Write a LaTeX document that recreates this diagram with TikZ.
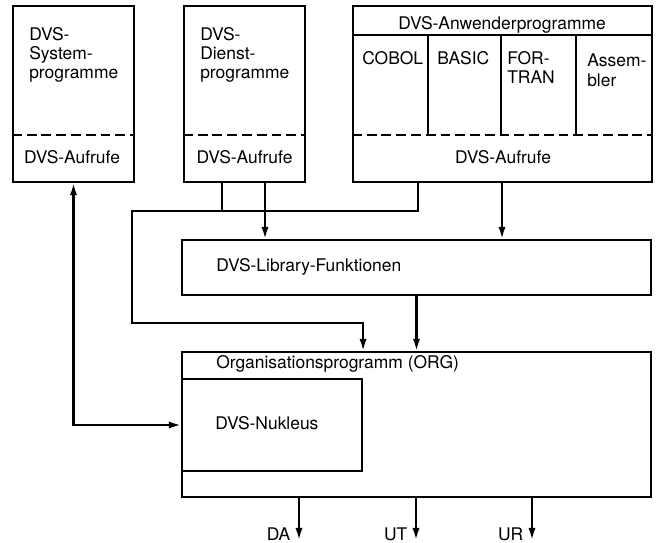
\documentclass[tikz,border=0pt]{standalone}
\usepackage{fontspec}
\setmainfont{TeX Gyre Heros}
\usetikzlibrary{arrows.meta}

\tikzset{
  box/.style={draw,line width=1.5pt,inner sep=0pt},
  txt/.style={inner sep=0pt,font=\fontsize{12.4}{13.6}\selectfont,align=left},
  conn/.style={line width=1.5pt},
  cutline/.style={line width=1.5pt,dash pattern=on 7pt off 3.5pt}
}

\begin{document}
\begin{tikzpicture}[x=0.025cm,y=-0.025cm,>={Latex[length=3mm,width=1.8mm]},line join=miter]
  \useasboundingbox (0,0) rectangle (658,543);
  % upper boxes
  \node[box,minimum width=3.025cm,minimum height=4.4cm] (sys) at (73.5,94) {};
  \node[box,minimum width=3.025cm,minimum height=4.4cm] (dienst) at (244.5,94) {};
  \node[box,minimum width=7.475cm,minimum height=4.4cm] (anw) at (502.5,94) {};
  \coordinate (cut) at (0,135);
  \coordinate (band) at (0,35);
  \draw[cutline] (sys.west |- cut) -- (sys.east |- cut);
  \draw[cutline] (dienst.west |- cut) -- (dienst.east |- cut);
  \draw[cutline] (anw.west |- cut) -- (anw.east |- cut);
  \draw[conn] (anw.west |- band) -- (anw.east |- band);
  \foreach \x in {428,501,576}
    \draw[conn] (\x,35) -- (\x,135);
  % lower boxes
  \node[box,minimum width=11.725cm,minimum height=1.375cm] (lib) at (416.5,267.5) {};
  \node[box,minimum width=11.725cm,minimum height=3.625cm] (org) at (416.5,424.5) {};
  \node[box,minimum width=4.5cm,minimum height=2.3cm] (nuk) at (272,425) {};
  % texts
  \node[txt,anchor=north west] (systxt) at (29,27) {DVS-\\System-\\programme};
  \node[txt,anchor=north west] (dientxt) at (200,27) {DVS-\\Dienst-\\programme};
  \node[txt,anchor=base] (sysauf) at (72,164) {DVS-Aufrufe};
  \node[txt,anchor=base] (dienauf) at (244.5,164) {DVS-Aufrufe};
  \node[txt,anchor=base] (anwtitle) at (502,30) {DVS-Anwenderprogramme};
  \node[txt,anchor=north west] (cobol) at (362,51) {COBOL};
  \node[txt,anchor=north west] (basic) at (437,51) {BASIC};
  \node[txt,anchor=north west] (fortran) at (507,51) {FOR-\\TRAN};
  \node[txt,anchor=north west] (assem) at (587,54) {Assem-\\bler};
  \node[txt,anchor=base] (anwauf) at (503,164) {DVS-Aufrufe};
  \node[txt,anchor=base west] (libtxt) at (216,272) {DVS-Library-Funktionen};
  \node[txt,anchor=base west] (orgtxt) at (216,369) {Organisationsprogramm (ORG)};
  \node[txt,anchor=base west] (nuktxt) at (215,430) {DVS-Nukleus};
  % connectors
  \coordinate (busW) at (132,211);
  \coordinate (busE) at (418,211);
  \coordinate (busS) at (132,323);
  \coordinate (dA) at (222,211);
  \coordinate (dB) at (265,240);
  \coordinate (dC) at (502,240);
  \draw[conn] (dienst.south -| dA) -- (dA);
  \draw[conn,->] (anw.south -| busE) -- (busE) -- (busW) -- (busS) -| (nuk.east |- org.north);
  \draw[conn,->] (dienst.south -| dB) -- (lib.north -| dB);
  \draw[conn,->] (anw.south -| dC) -- (lib.north -| dC);
  \draw[conn,->] (lib.south) -- (org.north);
  \draw[conn,<->] (sys.south) |- (nuk.west);
  % outputs
  \foreach \name/\x/\lab in {da/299/DA,ut/416/UT,ur/532/UR}{
    \coordinate (\name) at (\x,540);
    \draw[conn,->] (org.south -| \name) -- (\name);
    \node[txt,anchor=base east] (\name lbl) at ([xshift=-6pt]\name) {\lab};
  }
\end{tikzpicture}
\end{document}
